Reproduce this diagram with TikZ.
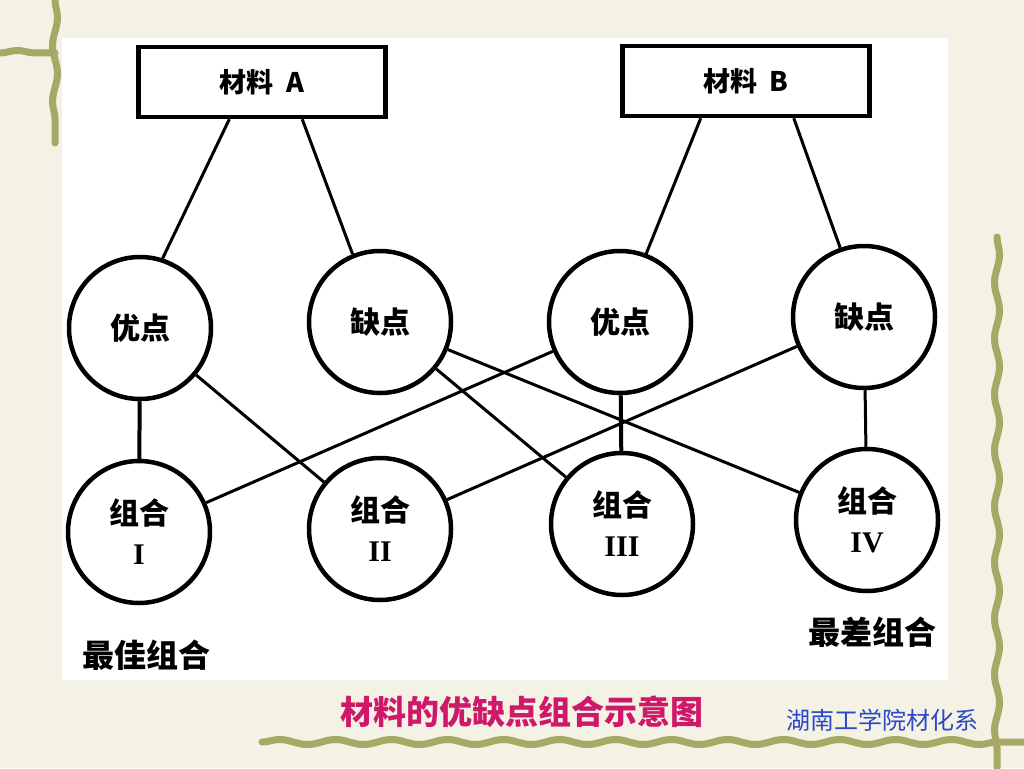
\documentclass[tikz,border=0pt]{standalone}
\usepackage{fontspec}
\newfontfamily\cjk{Noto Sans CJK SC}
\newfontfamily\romanf{Liberation Serif}
\usetikzlibrary{calc,decorations.pathmorphing}
\definecolor{bgcol}{HTML}{F3F2E4}
\definecolor{vine}{HTML}{A7A866}
\definecolor{capcol}{HTML}{D0186A}
\definecolor{bluecol}{HTML}{2A48C8}
\tikzset{
  matbox/.style={draw=black, line width=4.5pt, fill=white, minimum width=247pt, minimum height=70pt, inner sep=0pt, font=\cjk\bfseries\fontsize{27}{30}\selectfont},
  propcirc/.style={draw=black, circle, line width=4.5pt, fill=white, minimum size=142pt, inner sep=0pt, font=\cjk\bfseries\fontsize{30}{34}\selectfont},
  combcirc/.style={draw=black, circle, line width=4.5pt, fill=white, minimum size=142pt, inner sep=0pt, align=center, font=\cjk\bfseries\fontsize{30}{40}\selectfont},
  link/.style={draw=black, line width=3pt},
  vlink/.style={draw=black, line width=4pt},
  vinepath/.style={draw=vine, line width=7pt, line cap=round, decorate, decoration={snake, segment length=56pt, amplitude=2.5pt}},
  sidelabel/.style={font=\cjk\bfseries\fontsize{32}{34}\selectfont, inner sep=0pt}
}
\begin{document}
\begin{tikzpicture}[x=1pt,y=-1pt]
\useasboundingbox (0,0) rectangle (1024,768);
% background
\fill[bgcol] (0,0) rectangle (1024,768);
\fill[white] (62,38) rectangle (948,680);
% decorative vines
\draw[vinepath] (55,0) -- (55,143);
\draw[vinepath] (0,53) -- (55,53);
\draw[vinepath] (997,237) -- (997,768);
\draw[vinepath] (262,742) -- (1024,742);

% material boxes
\node[matbox] (A) at (262,82) {材料\ \ A};
\node[matbox] (B) at (746,81) {材料\ \ B};

% property circles
\node[propcirc] (uA) at (140,328) {优点};
\node[propcirc] (dA) at (380,322) {缺点};
\node[propcirc] (uB) at (620,322) {优点};
\node[propcirc] (dB) at (864,317) {缺点};

% combination circles
\node[combcirc] (c1) at (139,532) {组合\\{\romanf\bfseries I}};
\node[combcirc] (c2) at (380,529) {组合\\{\romanf\bfseries II}};
\node[combcirc] (c3) at (622,524) {组合\\{\romanf\bfseries III}};
\node[combcirc] (c4) at (867,520) {组合\\{\romanf\bfseries IV}};

% box to circles
\coordinate (a1) at ($(A.south west)!0.37!(A.south east)$);
\coordinate (a2) at ($(A.south west)!0.66!(A.south east)$);
\coordinate (b1) at ($(B.south west)!0.32!(B.south east)$);
\coordinate (b2) at ($(B.south west)!0.69!(B.south east)$);
\draw[link] (a1) -- (uA.72);
\draw[link] (a2) -- (dA.112);
\draw[link] (b1) -- (uB.69);
\draw[link] (b2) -- (dB.109);

% circles to combinations
\draw[vlink] (uA) -- (c1);
\draw[link] (uA) -- (c2);
\draw[link] (dA) -- (c3);
\draw[link] (dA) -- (c4);
\draw[link] (uB) -- (c1);
\draw[vlink] (uB) -- (c3);
\draw[link] (dB) -- (c2);
\draw[link] (dB) -- (c4);

% labels
\node[sidelabel, anchor=west] (best) at (82,655) {最佳组合};
\node[sidelabel, anchor=east] (worst) at (937,632) {最差组合};
\node[font=\cjk\bfseries\fontsize{33}{35}\selectfont, text=capcol, inner sep=0pt] (cap) at (522,712) {材料的优缺点组合示意图};
\node[font=\cjk\fontsize{24}{26}\selectfont, text=bluecol, inner sep=0pt] (org) at (882,720) {湖南工学院材化系};
\end{tikzpicture}
\end{document}
